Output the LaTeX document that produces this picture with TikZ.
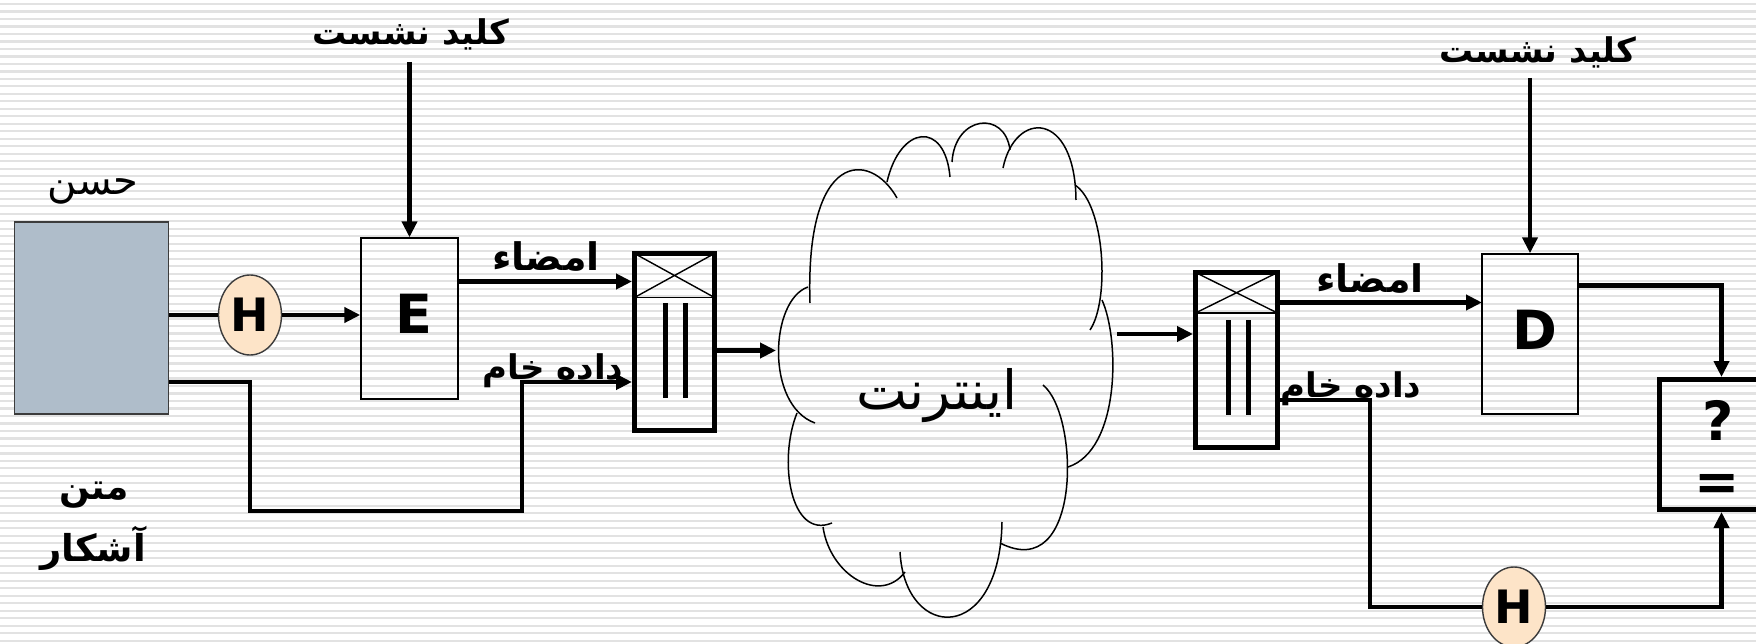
\documentclass[tikz,border=0pt]{standalone}
\usepackage{fontspec}
\usetikzlibrary{arrows.meta,shapes.geometric}
\TeXXeTstate=1
\newfontfamily\arfont[Script=Arabic]{DejaVu Sans}
\newfontfamily\latfont{DejaVu Sans}
\newcommand\rtl[1]{\arfont\beginR #1\endR}
\definecolor{stripegray}{RGB}{226,226,226}
\definecolor{slate}{RGB}{175,189,202}
\definecolor{peach}{RGB}{253,228,200}
\definecolor{edgegray}{RGB}{60,60,60}

\begin{document}
\begin{tikzpicture}[x=1pt,y=-1pt,
  conn/.style={line width=4.2pt},
  arrow/.style={conn,-{Triangle[length=16pt,width=15pt]}},
  thinbox/.style={draw,rectangle,line width=1.4pt,inner sep=0pt},
  muxbox/.style={draw,rectangle,line width=5pt,inner sep=0pt},
  hashnode/.style={draw=edgegray,ellipse,fill=peach,line width=1.4pt,
    minimum width=63pt,minimum height=80pt,inner sep=0pt,
    font=\latfont\bfseries\fontsize{46}{46}\selectfont},
  bigletter/.style={font=\latfont\bfseries\fontsize{54}{54}\selectfont,inner sep=0pt},
  boldlabel/.style={font=\bfseries\fontsize{#1}{#1}\selectfont,inner sep=0pt},
  plainlabel/.style={font=\fontsize{#1}{#1}\selectfont,inner sep=0pt},
  cloudline/.style={line width=1.5pt},
  stripeline/.style={stripegray,line width=2.2pt}]

% page frame and striped background
\clip (0,0) rectangle (1756,644);
\fill[white] (0,0) rectangle (1756,644);
\foreach \k in {0,...,86}
  \draw[stripeline] (0,{4+7.49*\k}) -- (1756,{4+7.49*\k});

% ---------- sender side ----------
\node[draw=edgegray,fill=slate,line width=1.4pt,rectangle,inner sep=0pt,
      minimum width=154pt,minimum height=192pt] (hasan) at (91.5,318) {};
\node[plainlabel=40] (hasanlbl) at (93,191) {\rtl{حسن}};
\node[boldlabel=36] (plainA) at (94,495) {\rtl{متن}};
\node[boldlabel=37] (plainB) at (93,548) {\rtl{آشکار}};

\node[hashnode] (h1) at (250,315) {H};
\node[thinbox,minimum width=97pt,minimum height=161pt] (enc) at (409.5,318.5) {};
\node[bigletter] (encE) at (414,314) {E};

\node[boldlabel=34] (key1) at (411,34) {\rtl{کلید نشست}};
\coordinate (key1src) at (409.5,62);

\node[muxbox,minimum width=80pt,minimum height=177pt] (mux1) at (674.5,342) {};
\begin{scope}[shift={(674.5,342)}]
  \draw[line width=1.6pt] (-40,-44.5) -- (40,-44.5);
  \draw[line width=1.4pt] (-40,-88.5) -- (40,-44.5) (40,-88.5) -- (-40,-44.5);
  \draw[line width=5pt] (-9,-39) -- (-9,56) (11,-39) -- (11,56);
\end{scope}

\coordinate (sigIn1) at (632,281.5);
\coordinate (rawIn1) at (632,382);
\coordinate (rawA) at (250,511);
\coordinate (rawB) at (522,511);

\node[boldlabel=38] (sig1) at (546,257) {\rtl{امضاء}};
\node[boldlabel=34] (raw1) at (553,371) {\rtl{داده خام}};

\draw[conn] (hasan.east |- h1) -- (h1.west);
\draw[arrow] (h1.east) -- (enc.west |- h1);
\draw[arrow] (key1src) -- (enc.north);
\draw[arrow] (enc.east |- sigIn1) -- (sigIn1);
\draw[arrow] (hasan.east |- rawIn1) -| (rawA) -- (rawB) |- (rawIn1);

% ---------- the network cloud ----------
\coordinate (cloudIn) at (776,350.5);
\coordinate (cloudOut) at (1117,334);
\begin{scope}[cloudline]
  \draw (808,287) .. controls (770,300) and (765,405) .. (815,423);
  \draw (797,413) .. controls (778,460) and (790,540) .. (832,523);
  \draw (823,527) .. controls (830,575) and (880,605) .. (905,572);
  \draw (900,552) .. controls (905,642) and (1000,645) .. (1002,522);
  \draw (1000,543) .. controls (1082,585) and (1080,415) .. (1043,385);
  \draw (1068,467) .. controls (1120,450) and (1120,340) .. (1102,300);
  \draw (1090,330) .. controls (1110,300) and (1105,205) .. (1075,185);
  \draw (1076,200) .. controls (1075,110) and (1015,110) .. (1003,168);
  \draw (1010,150) .. controls (1005,110) and (955,115) .. (952,162);
  \draw (950,177) .. controls (945,120) and (900,125) .. (887,182);
  \draw (897,198) .. controls (870,150) and (805,150) .. (810,303);
\end{scope}
\node[plainlabel=54] (net) at (937,396) {\rtl{اینترنت}};

\draw[arrow] (mux1.east |- cloudIn) -- (cloudIn);

% ---------- receiver side ----------
\node[muxbox,minimum width=82pt,minimum height=175pt] (mux2) at (1236.5,360) {};
\begin{scope}[shift={(1236.5,360)}]
  \draw[line width=1.6pt] (-41,-47) -- (41,-47);
  \draw[line width=1.4pt] (-41,-87.5) -- (41,-47) (41,-87.5) -- (-41,-47);
  \draw[line width=5pt] (-8,-40) -- (-8,55) (12,-40) -- (12,55);
\end{scope}

\node[thinbox,minimum width=96pt,minimum height=160pt] (dec) at (1530,334) {};
\node[bigletter] (decD) at (1535,330) {D};
\node[boldlabel=34] (key2) at (1538,52) {\rtl{کلید نشست}};
\coordinate (key2src) at (1530,78);

\node[muxbox,minimum width=160pt,minimum height=130pt] (cmp) at (1739.5,444.5) {};
\node[bigletter] (cmpQ) at (1718,420) {?};
\node[bigletter] (cmpEq) at (1717,487) {=};

\node[hashnode] (h2) at (1514,607) {H};

\coordinate (sigIn2) at (1482,302.5);
\coordinate (rawC) at (1370,607);
\coordinate (cmpTop) at (1721.5,377);
\coordinate (cmpBot) at (1721.5,512);

\node[boldlabel=38] (sig2) at (1370,279) {\rtl{امضاء}};
\node[boldlabel=34] (raw2) at (1351,389) {\rtl{داده خام}};

\draw[arrow] (cloudOut) -- (mux2.west |- cloudOut);
\draw[arrow] (mux2.east |- sigIn2) -- (sigIn2);
\draw[arrow] (key2src) -- (dec.north);
\draw[arrow] ([yshift=48.5pt]dec.east) -| (cmpTop);
\draw[conn] ([yshift=-40pt]mux2.east) -| (rawC) -- (h2.west);
\draw[arrow] (h2.east) -| (cmpBot);
\end{tikzpicture}
\end{document}
